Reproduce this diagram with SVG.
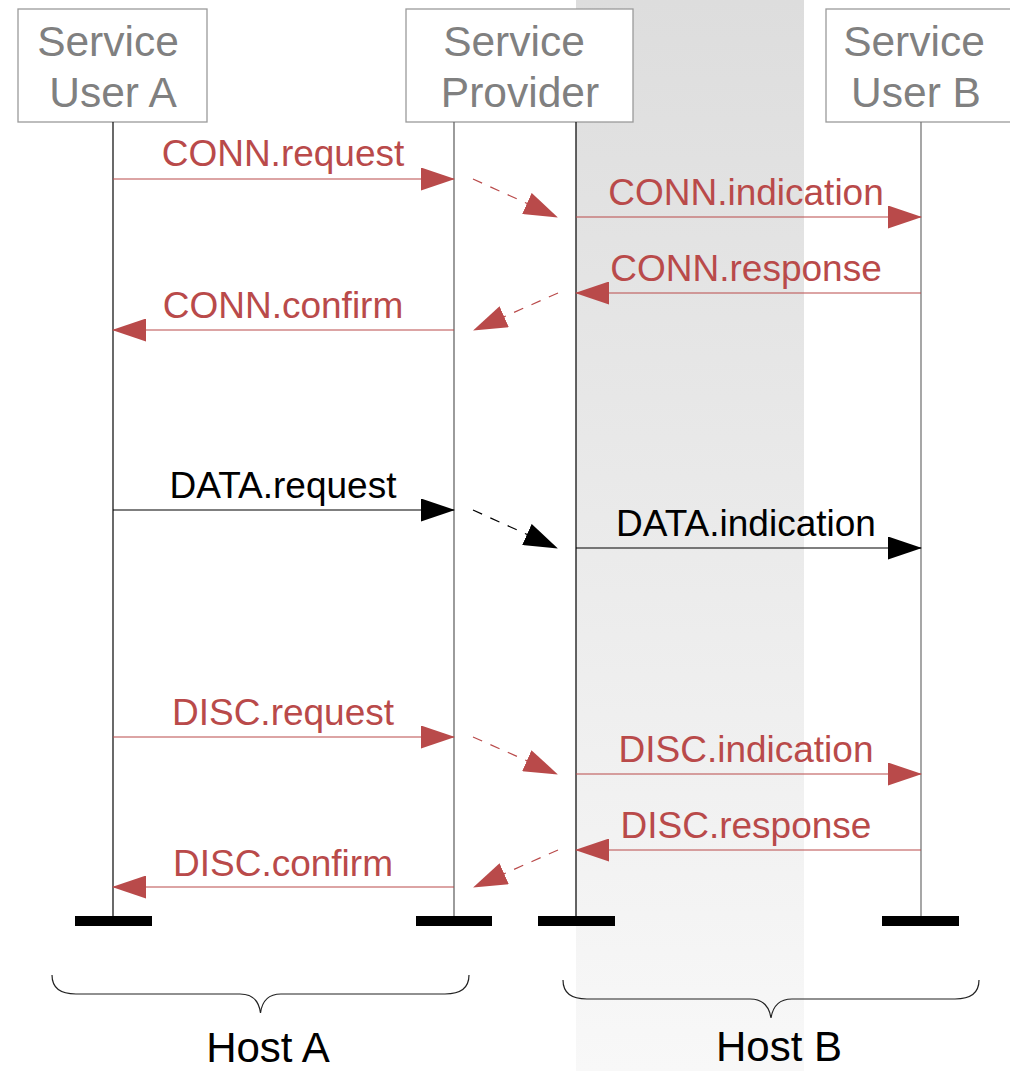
<svg xmlns="http://www.w3.org/2000/svg" width="1010" height="1071" viewBox="0 0 1010 1071">
  <defs>
    <linearGradient id="bandFill" x1="0" y1="0" x2="0" y2="1">
      <stop offset="0" stop-color="#dddddd"/>
      <stop offset="1" stop-color="#f8f8f8"/>
    </linearGradient>
    <marker id="headRed" markerUnits="userSpaceOnUse" markerWidth="34" markerHeight="23" viewBox="0 0 34 23" refX="33" refY="11.5" orient="auto">
      <path d="M0,0 L34,11.5 L0,23 z" fill="#b94a4a"/>
    </marker>
    <marker id="headBlack" markerUnits="userSpaceOnUse" markerWidth="34" markerHeight="23" viewBox="0 0 34 23" refX="33" refY="11.5" orient="auto">
      <path d="M0,0 L34,11.5 L0,23 z" fill="#000"/>
    </marker>
  </defs>
  <style>
    .box { fill: #fff; stroke: #9a9a9a; stroke-width: 1.3; }
    .boxtext { font-family: "Liberation Sans", Arial, sans-serif; font-size: 42.5px; fill: #808080; text-anchor: middle; }
    .life { stroke-width: 1.3; fill: none; }
    .bar { fill: #000; }
    .msg { stroke-width: 1.2; fill: none; }
    .red { stroke: #b94a4a; }
    .blk { stroke: #000; }
    .dash { stroke-dasharray: 10 9; }
    .lbl { font-family: "Liberation Sans", Arial, sans-serif; font-size: 37px; text-anchor: middle; }
    .lred { fill: #b94a4a; }
    .lblk { fill: #000; }
    .brace { fill: none; stroke: #222; stroke-width: 1.2; }
    .host { font-family: "Liberation Sans", Arial, sans-serif; font-size: 42px; fill: #000; text-anchor: middle; }
  </style>

  <rect width="1010" height="1071" fill="#fff"/>
  <!-- shaded band behind host B's provider side -->
  <rect x="576" y="0" width="228" height="1071" fill="url(#bandFill)"/>

  <!-- participants -->
  <g id="user-a">
    <rect class="box" x="18" y="9" width="189" height="113"/>
    <text class="boxtext" x="108" y="56">Service</text>
    <text class="boxtext" x="113" y="107">User A</text>
    <line class="life" stroke="#1a1a1a" x1="113" y1="122" x2="113" y2="918"/>
    <rect class="bar" x="75" y="916" width="77" height="10"/>
  </g>
  <g id="service-provider">
    <rect class="box" x="406" y="9" width="227" height="113"/>
    <text class="boxtext" x="514" y="56">Service</text>
    <text class="boxtext" x="520" y="107">Provider</text>
    <line class="life" stroke="#666" x1="454" y1="122" x2="454" y2="918"/>
    <line class="life" stroke="#111" x1="576" y1="122" x2="576" y2="918"/>
    <rect class="bar" x="416" y="916" width="76" height="10"/>
    <rect class="bar" x="538" y="916" width="77" height="10"/>
  </g>
  <g id="user-b">
    <rect class="box" x="826" y="9" width="189" height="113"/>
    <text class="boxtext" x="914" y="56">Service</text>
    <text class="boxtext" x="916" y="107">User B</text>
    <line class="life" stroke="#777" x1="921" y1="122" x2="921" y2="918"/>
    <rect class="bar" x="882" y="916" width="77" height="10"/>
  </g>

  <!-- primitives exchanged between the layers -->
  <g id="connectors">
    <line class="msg red" x1="113" y1="179" x2="454" y2="179" marker-end="url(#headRed)"/>
    <line class="msg red dash" x1="473" y1="179" x2="557" y2="217" marker-end="url(#headRed)"/>
    <line class="msg red" x1="576" y1="217" x2="921" y2="217" marker-end="url(#headRed)"/>
    <line class="msg red" x1="921" y1="293" x2="576" y2="293" marker-end="url(#headRed)"/>
    <line class="msg red dash" x1="558" y1="293" x2="474" y2="330" marker-end="url(#headRed)"/>
    <line class="msg red" x1="454" y1="330" x2="113" y2="330" marker-end="url(#headRed)"/>

    <line class="msg blk" x1="113" y1="510" x2="454" y2="510" marker-end="url(#headBlack)"/>
    <line class="msg blk dash" x1="473" y1="510" x2="557" y2="548" marker-end="url(#headBlack)"/>
    <line class="msg blk" x1="576" y1="548" x2="921" y2="548" marker-end="url(#headBlack)"/>

    <line class="msg red" x1="113" y1="737" x2="454" y2="737" marker-end="url(#headRed)"/>
    <line class="msg red dash" x1="473" y1="737" x2="557" y2="774" marker-end="url(#headRed)"/>
    <line class="msg red" x1="576" y1="774" x2="921" y2="774" marker-end="url(#headRed)"/>
    <line class="msg red" x1="921" y1="850" x2="576" y2="850" marker-end="url(#headRed)"/>
    <line class="msg red dash" x1="558" y1="850" x2="474" y2="887" marker-end="url(#headRed)"/>
    <line class="msg red" x1="454" y1="887" x2="113" y2="887" marker-end="url(#headRed)"/>
  </g>

  <g id="labels">
    <text class="lbl lred" x="283" y="166">CONN.request</text>
    <text class="lbl lred" x="746" y="205">CONN.indication</text>
    <text class="lbl lred" x="746" y="281">CONN.response</text>
    <text class="lbl lred" x="283" y="318">CONN.confirm</text>
    <text class="lbl lblk" x="283" y="498">DATA.request</text>
    <text class="lbl lblk" x="746" y="536">DATA.indication</text>
    <text class="lbl lred" x="283" y="725">DISC.request</text>
    <text class="lbl lred" x="746" y="762">DISC.indication</text>
    <text class="lbl lred" x="746" y="838">DISC.response</text>
    <text class="lbl lred" x="283" y="876">DISC.confirm</text>
  </g>

  <!-- host groupings -->
  <g id="host-a">
    <path class="brace" d="M52,975 Q52,994 76,994 L240,994 Q258,994 260.5,1013 Q263,994 281,994 L445,994 Q469,994 469,975"/>
    <text class="host" x="268" y="1062">Host A</text>
  </g>
  <g id="host-b">
    <path class="brace" d="M563,980 Q563,999 587,999 L750,999 Q768,999 771,1018 Q774,999 792,999 L955,999 Q979,999 979,980"/>
    <text class="host" x="779" y="1061">Host B</text>
  </g>
</svg>
